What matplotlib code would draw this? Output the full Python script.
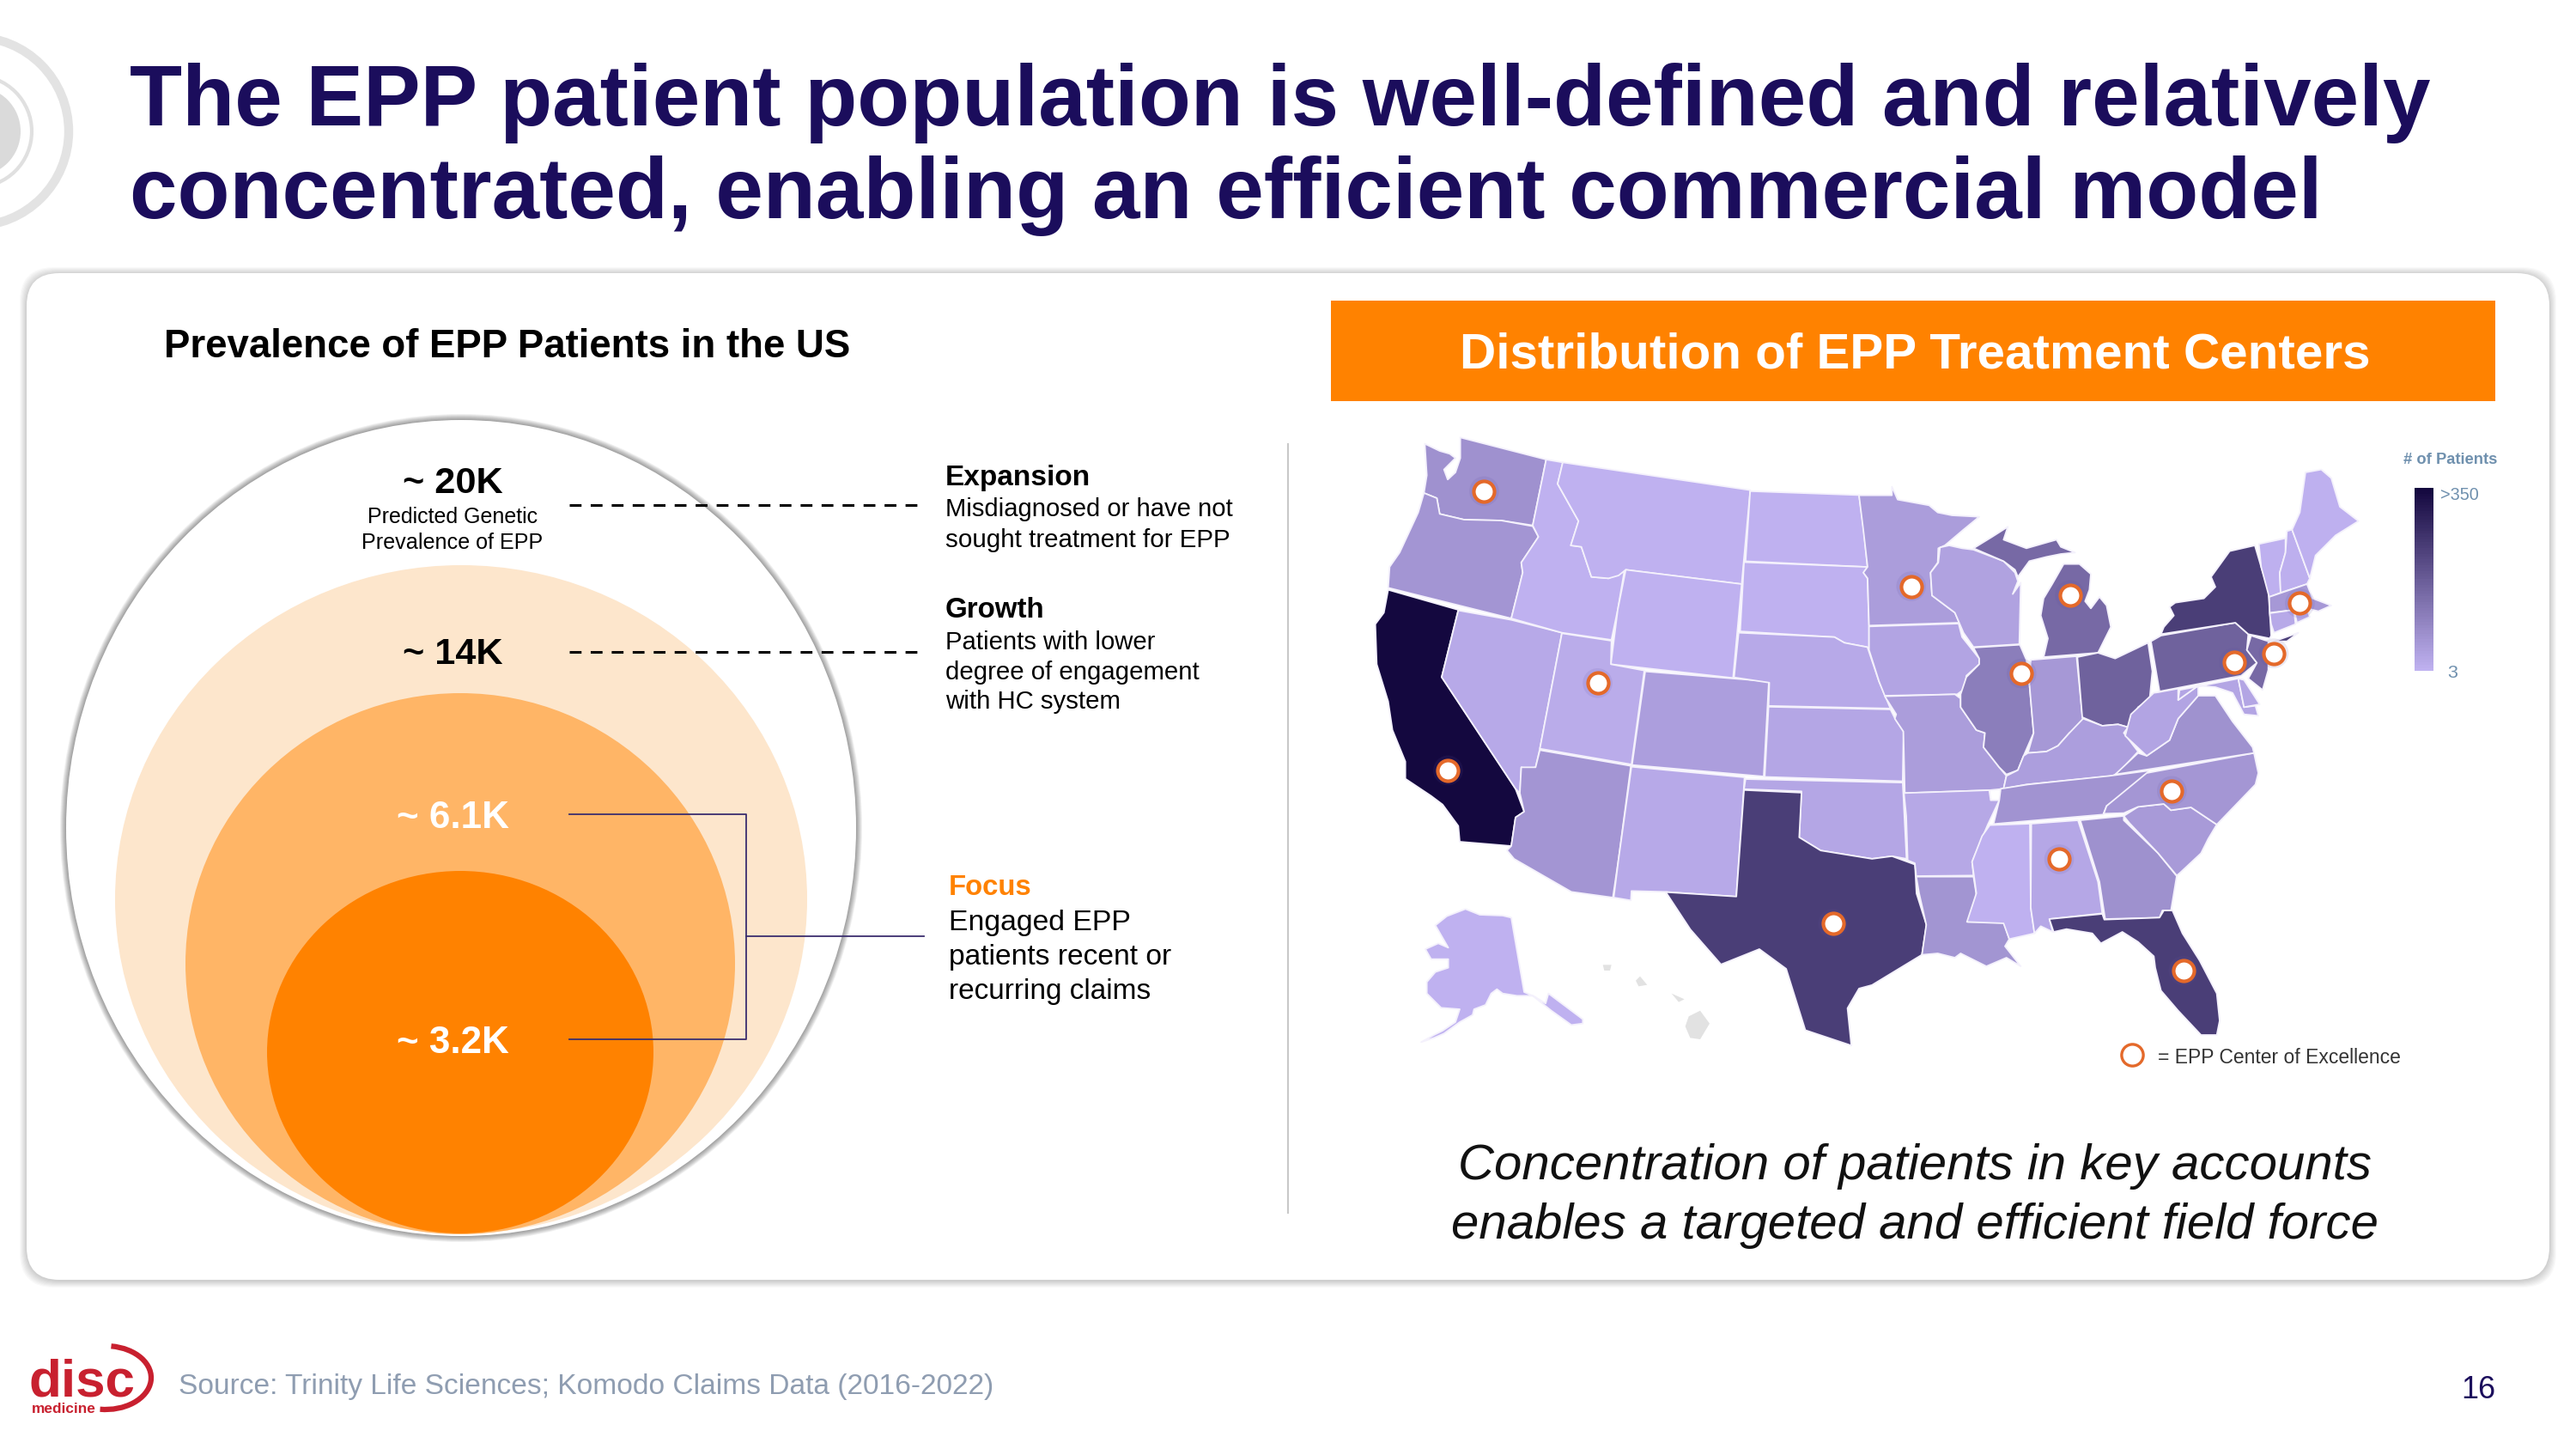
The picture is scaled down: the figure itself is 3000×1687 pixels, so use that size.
import numpy as np
import matplotlib
matplotlib.use("Agg")
import matplotlib.pyplot as plt
from matplotlib.patches import Ellipse, FancyBboxPatch, Polygon, Rectangle, Arc, Circle
from matplotlib.colors import LinearSegmentedColormap, Normalize

plt.rcParams['font.family'] = ['Liberation Sans', 'DejaVu Sans']

# ---------- data ----------
title_lines = ["The EPP patient population is well-defined and relatively",
               "concentrated, enabling an efficient commercial model"]
funnel_labels = ["~ 20K", "~ 14K", "~ 6.1K", "~ 3.2K"]
state_names = ["WA","OR","CA","NV","ID","MT","WY","UT","CO","AZ","NM","ND","SD","NE","KS","OK","TX",
               "MN","IA","MO","AR","LA","WI","IL","IN","MI","OH","KY","TN","MS","AL","GA","FL","SC",
               "NC","VA","WV","PA","NY","NJ","MD","DE","VT","NH","ME","MA","CT","RI","AK"]
patient_counts = [69,60,350,20,4,3,3,15,41,60,20,4,4,20,25,25,240,
                  45,30,45,22,62,35,108,55,150,165,42,65,3,24,70,240,50,
                  58,68,30,165,240,150,28,28,5,8,5,55,20,20,3]
# Map geometry: frame -> (left, top, x-scale, y-scale) of the traced crop
frames = {"W":(1580,500,3,3), "MW":(2120,560,3,3), "SE":(2180,860,3,3), "NE":(2400,520,3,3),
          "AK":(1580,1000,3,3), "Z":(1540,480,1.12,1.96)}
state_outlines = {
 "WA":[("W",[(238,50),(290,75),(325,85),(345,100),(305,140),(318,175),(345,150),(362,100),(362,28),(662,105),(615,335),(505,318),(375,315),(290,295),(280,240),(235,222),(245,160)])],
 "OR":[("W",[(235,222),(280,240),(290,295),(375,315),(505,318),(615,338),(635,375),(575,465),(580,500),(540,660),(110,553),(115,480),(150,430),(215,290)])],
 "CA":[("W",[(110,560),(355,630),(297,865),(555,1255),(585,1335),(555,1355),(540,1455),(360,1440),(355,1385),(300,1310),(260,1280),(170,1220),(170,1160),(125,1050),(110,950),(70,820),(65,680),(95,640)])],
 "NV":[("W",[(355,632),(540,665),(717,710),(640,1115),(625,1180),(600,1185),(575,1180),(570,1270),(555,1255),(297,865)])],
 "ID":[("W",[(662,105),(720,115),(702,190),(775,320),(748,405),(785,410),(820,515),(880,520),(915,505),(935,495),(912,630),(890,735),(717,710),(540,660),(580,500),(575,465),(635,375),(615,335)])],
 "MT":[("W",[(720,115),(1375,212),(1345,540),(940,490),(915,510),(880,520),(820,515),(785,410),(748,405),(775,320),(702,190)])],
 "WY":[("W",[(940,490),(1345,540),(1315,868),(888,820),(912,630)])],
 "UT":[("W",[(717,712),(890,738),(888,820),(1005,842),(960,1170),(640,1115)])],
 "CO":[("W",[(1008,845),(1440,880),(1422,1212),(962,1172)])],
 "AZ":[("W",[(640,1120),(958,1175),(915,1500),(895,1635),(750,1615),(550,1500),(525,1470),(540,1455),(555,1355),(585,1335),(570,1270),(575,1180),(625,1180)])],
 "NM":[("W",[(960,1178),(1355,1215),(1352,1262),(1326,1632),(1080,1615),(960,1612),(958,1645),(898,1635),(915,1500)])],
 "ND":[("Z",[(558,180),(700,189),(706,268),(711,353),(552,340)])],
 "SD":[("Z",[(550,342),(711,353),(706,366),(711,379),(713,487),(713,542),(711,536),(681,526),(668,513),(545,500)])],
 "NE":[("Z",[(543,503),(668,513),(681,526),(711,536),(726,614),(741,676),(582,670),(583,617),(537,605)])],
 "KS":[("Z",[(582,672),(741,678),(747,699),(758,728),(757,842),(577,832)])],
 "OK":[("Z",[(552,837),(757,845),(762,1019),(743,1013),(717,1019),(650,1000),(622,970),(625,865),(550,860)])],
 "TX":[("Z",[(550,862),(625,868),(622,970),(650,1000),(717,1019),(743,1013),(773,1032),(775,1098),(788,1170),(782,1238),(717,1307),(700,1315),(685,1360),(690,1445),(630,1410),(605,1270),(570,1225),(520,1260),(480,1180),(448,1095),(540,1105)])],
 "MN":[("MW",[(135,50),(250,50),(250,20),(270,65),(380,85),(410,110),(460,120),(555,125),(500,170),(435,225),(412,235),(410,285),(385,320),(390,400),(470,460),(485,495),(170,505),(165,340),(150,320),(165,300),(150,170)])],
 "IA":[("MW",[(170,508),(483,498),(495,545),(555,620),(555,640),(510,680),(505,725),(478,745),(225,750),(205,700),(170,590)])],
 "MO":[("MW",[(225,752),(470,745),(490,760),(490,790),(545,870),(575,880),(570,930),(625,1000),(650,1030),(640,1075),(590,1080),(295,1090),(290,875),(260,830),(265,815)])],
 "AR":[("SE",[(112,190),(410,180),(415,215),(445,215),(405,300),(350,430),(355,478),(155,480),(150,435),(125,425),(120,270)])],
 "LA":[("SE",[(155,482),(355,482),(365,545),(335,640),(460,640),(480,700),(465,725),(520,795),(470,765),(400,795),(350,770),(310,750),(290,765),(230,750),(175,755),(190,650),(165,540)])],
 "WI":[("MW",[(418,232),(450,225),(495,235),(535,240),(640,280),(680,320),(690,350),(672,395),(700,355),(695,570),(535,580),(500,530),(485,495),(470,460),(390,400),(385,320),(412,285)])],
 "IL":[("MW",[(535,582),(697,572),(720,625),(730,705),(745,880),(710,960),(690,1010),(650,1025),(625,1000),(570,930),(575,880),(545,870),(490,790),(490,745),(510,685),(555,640),(555,620)])],
 "IN":[("MW",[(735,625),(895,612),(918,850),(870,880),(830,925),(790,945),(725,950),(745,880),(730,705)])],
 "MI":[("MW",[(535,235),(600,195),(655,160),(640,205),(720,235),(825,205),(840,230),(890,250),(840,255),(790,265),(730,280),(690,335),(680,310),(640,280)]),
       ("MW",[(850,290),(905,290),(945,325),(940,380),(925,420),(945,445),(975,405),(1000,435),(1015,510),(970,600),(780,615),(795,550),(770,470),(780,410),(810,360)])],
 "OH":[("MW",[(898,615),(970,600),(1030,620),(1145,565),(1160,665),(1150,765),(1110,790),(1075,860),(1040,850),(985,855),(915,825)])],
 "KY":[("MW",[(725,950),(790,945),(830,925),(870,880),(918,830),(985,855),(1040,850),(1075,860),(1060,880),(1110,945),(1040,1020),(1020,1030),(720,1060),(640,1075),(650,1030),(690,1010),(710,960)])],
 "TN":[("SE",[(450,175),(545,160),(830,130),(965,112),(960,130),(820,235),(808,265),(425,298),(445,215)])],
 "MS":[("SE",[(412,302),(552,297),(555,590),(568,680),(480,700),(460,645),(332,640),(365,540),(350,430),(385,340)])],
 "AL":[("SE",[(557,297),(720,285),(790,500),(805,610),(620,630),(632,675),(590,655),(568,680),(555,590)])],
 "GA":[("SE",[(728,285),(880,270),(880,285),(1000,400),(1065,480),(1045,600),(1015,600),(1005,625),(815,630),(795,500)])],
 "FL":[("SE",[(620,630),(805,612),(812,632),(1005,625),(1020,600),(1050,600),(1085,680),(1145,775),(1205,890),(1215,985),(1205,1035),(1150,1035),(1070,950),(1010,880),(990,800),(985,760),(930,710),(875,675),(800,715),(770,680),(680,665),(635,675)])],
 "SC":[("SE",[(880,270),(930,238),(1020,228),(1045,250),(1115,240),(1205,300),(1175,350),(1150,400),(1075,470),(1065,478),(1000,400),(900,295)])],
 "NC":[("SE",[(810,262),(820,235),(960,120),(1335,50),(1350,120),(1340,160),(1205,300),(1115,240),(1045,250),(1020,228),(930,238),(880,260)])],
 "VA":[("NE",[(480,870),(540,870),(600,960),(670,1050),(675,1070),(190,1145),(270,1070),(300,1080),(380,1025),(410,950)])],
 "WV":[("NE",[(340,858),(410,845),(410,885),(480,835),(480,870),(410,950),(380,1025),(300,1080),(225,1010),(245,935),(325,860)])],
 "PA":[("NE",[(350,660),(610,615),(655,655),(650,710),(685,755),(630,800),(345,855),(315,680)])],
 "NY":[("NE",[(350,655),(360,630),(395,590),(380,560),(400,545),(500,530),(540,490),(525,455),(590,365),(678,345),(700,420),(725,500),(735,660),(730,670),(655,655),(610,615)]),
       ("NE",[(745,680),(830,650),(790,680)])],
 "NJ":[("NE",[(665,660),(725,680),(725,780),(705,850),(655,810),(685,755),(650,710)])],
 "MD":[("NE",[(415,850),(620,810),(640,910),(680,905),(690,940),(640,935),(600,860),(540,840),(480,835),(410,885)])],
 "DE":[("NE",[(620,810),(640,815),(695,900),(640,910)])],
 "VT":[("NE",[(692,340),(785,320),(785,370),(765,440),(768,510),(728,525),(700,420)])],
 "NH":[("NE",[(790,295),(808,290),(870,460),(860,480),(768,510),(765,440),(785,370)])],
 "ME":[("NE",[(855,90),(910,80),(945,110),(975,210),(1040,260),(960,310),(890,380),(870,460),(808,290),(835,230)])],
 "MA":[("NE",[(728,525),(860,480),(880,530),(945,555),(900,575),(860,565),(730,580)])],
 "CT":[("NE",[(730,582),(815,570),(820,620),(745,650),(735,620)])],
 "RI":[("NE",[(815,570),(860,565),(870,595),(825,615)])],
 "AK":[("AK",[(275,232),(315,200),(380,175),(430,195),(510,198),(540,205),(585,465),(620,480),(660,505),(670,470),(790,560),(790,575),(750,580),(680,530),(615,478),(560,478),(510,470),(490,455),(470,470),(450,510),(410,525),(405,545),(360,570),(305,610),(270,625),(225,640),(270,615),(300,600),(345,570),(360,525),(295,520),(245,470),(245,430),(275,395),(320,380),(320,350),(260,350),(240,315),(285,295),(320,310)])],
}
hawaii_outlines = [[(860,370),(890,370),(885,390),(865,390)],[(975,425),(990,410),(1015,440),(985,445)],
                   [(1100,470),(1145,490),(1125,500)],[(1160,550),(1200,530),(1233,575),(1200,630),(1165,625),(1148,585)]]
center_x = [211,768,975,1275,1241,1189,912,359,164,1108,961,666,1123]
center_y = [180,397,417,436,550,571,596,618,817,864,1020,1167,1274]
scale_low, scale_high = 3, 350

def frame_xy(frame, verts):
    left, top, sx, sy = frames[frame]
    v = np.asarray(verts, float)
    return np.column_stack([left + v[:, 0] / sx, top + v[:, 1] / sy])

# ---------- canvas ----------
fig = plt.figure(figsize=(30, 16.87), dpi=100, facecolor='white')
ax = fig.add_axes([0, 0, 1, 1])
ax.set_xlim(0, 3000); ax.set_ylim(1687, 0); ax.axis('off')
renderer = fig.canvas.get_renderer()

NAVY = '#1B0D5C'
ORANGE = '#FF8200'

def put(x, y, s, width=None, size=20, **kw):
    kw.setdefault('va', 'center'); kw.setdefault('ha', 'left'); kw.setdefault('color', 'black')
    t = ax.text(x, y, s, fontsize=size, **kw)
    if width:
        w = t.get_window_extent(renderer).width
        t.set_fontsize(size * width / w)
    return t

# background ornament
ax.add_patch(Circle((-30, 153), 110, fc='none', ec='#E3E3E3', lw=7.5))
ax.add_patch(Circle((-28, 153), 65, fc='none', ec='#E0E0E0', lw=3))
ax.add_patch(Circle((-28, 153), 52, fc='#DADADA', ec='none'))

# title
put(151, 146, title_lines[0], width=2680, size=70, color=NAVY, weight='bold', va='baseline')
put(151, 254, title_lines[1], width=2554, size=70, color=NAVY, weight='bold', va='baseline')

# card
for k in range(8, 0, -1):
    ax.add_patch(FancyBboxPatch((31-k, 318-k+1), 2938+2*k, 1172+2*k, boxstyle='round,pad=0,rounding_size=40',
                                fc='#000000', ec='none', alpha=0.022))
ax.add_patch(FancyBboxPatch((31, 318), 2938, 1172, boxstyle='round,pad=0,rounding_size=38', fc='white', ec='none'))

put(191, 404, "Prevalence of EPP Patients in the US", width=802, size=34, weight='bold')

# nested circles
for k in range(7, 0, -1):
    ax.add_patch(Ellipse((537, 964), 920+2*k, 950+2*k, fc='#000000', ec='none', alpha=0.06))
ax.add_patch(Ellipse((537, 964), 920, 950, fc='white', ec='none'))
ax.add_patch(Ellipse((537, 1047), 806, 778, fc='#FDE6CC', ec='none'))
ax.add_patch(Ellipse((536, 1122), 640, 630, fc='#FFB566', ec='none'))
ax.add_patch(Ellipse((536, 1225), 450, 422, fc=ORANGE, ec='none'))

put(527, 563, funnel_labels[0], width=117, size=33, ha='center', weight='bold')
put(527, 602, "Predicted Genetic", width=199, size=19, ha='center')
put(527, 632, "Prevalence of EPP", width=211, size=19, ha='center')
put(527, 762, funnel_labels[1], width=117, size=33, ha='center', weight='bold')
put(527, 952, funnel_labels[2], width=131, size=33, ha='center', weight='bold', color='white')
put(527, 1214, funnel_labels[3], width=131, size=33, ha='center', weight='bold', color='white')

ax.plot([663, 1072], [588, 588], color='black', lw=2.2, dashes=(4.5, 3.5))
ax.plot([663, 1072], [759, 759], color='black', lw=2.2, dashes=(4.5, 3.5))
ax.plot([663, 869, 869, 663], [948, 948, 1210, 1210], color='#3B2E6E', lw=1.3)
ax.plot([869, 1076], [1090, 1090], color='#3B2E6E', lw=1.3)

put(1101, 557, "Expansion", width=169, size=23, weight='bold')
put(1101, 593, "Misdiagnosed or have not", width=334, size=22)
put(1101, 629, "sought treatment for EPP", width=330, size=22)
put(1101, 710, "Growth", width=116, size=23, weight='bold')
put(1101, 748, "Patients with lower", width=243, size=22)
put(1101, 783, "degree of engagement", width=294, size=22)
put(1101, 817, "with HC system", width=203, size=22)
put(1105, 1033, "Focus", width=97, size=25, weight='bold', color=ORANGE)
put(1105, 1074, "Engaged EPP", width=212, size=25)
put(1105, 1114, "patients recent or", width=260, size=25)
put(1105, 1154, "recurring claims", width=236, size=25)

ax.plot([1500, 1500], [517, 1412], color='#C9C9C9', lw=1.5)

# orange band
ax.add_patch(Rectangle((1550, 350), 1356, 117, fc=ORANGE, ec='none'))
put(2230, 413, "Distribution of EPP Treatment Centers", width=1062, size=42, ha='center', weight='bold', color='white')

# map
cmap = LinearSegmentedColormap.from_list('epp', ['#BFB1F0', '#14083F'])
norm = Normalize(scale_low, scale_high)
for name, count in zip(state_names, patient_counts):
    for frame, poly in state_outlines[name]:
        ax.add_patch(Polygon(frame_xy(frame, poly), closed=True, fc=cmap(norm(count)), ec='#F4F1FC', lw=1.3, joinstyle='round'))
for poly in hawaii_outlines:
    ax.add_patch(Polygon(frame_xy("AK", poly), closed=True, fc='#E2E2E2', ec='none'))
centers = frame_xy("Z", np.column_stack([center_x, center_y]))
ax.scatter(centers[:, 0], centers[:, 1], s=620, fc='#5B4FA0', ec='none', alpha=0.12, zorder=4)
ax.scatter(centers[:, 0], centers[:, 1], s=300, fc='white', ec='#E4692A', lw=3.0, zorder=5)
legend_center = frame_xy("SE", [(910, 1105)])
ax.scatter(legend_center[:, 0], legend_center[:, 1], s=330, fc='white', ec='#E4692A', lw=2.4, zorder=5)

put(2513, 1231, "= EPP Center of Excellence", width=283, size=18, color='#333333', stretch='condensed')

# colour scale
ax.imshow(np.linspace(scale_high, scale_low, 64)[:, None], cmap=cmap, norm=norm, aspect='auto',
          extent=(2812, 2834, 781, 569), zorder=3)
ax.set_xlim(0, 3000); ax.set_ylim(1687, 0)
put(2854, 536, "# of Patients", width=110, size=14, ha='center', weight='bold', color='#6F90AE')
put(2842, 577, ">350", width=45, size=14, color='#6F90AE')
put(2850, 783, "3", width=12, size=14, color='#6F90AE')

# caption
put(2230, 1358, "Concentration of patients in key accounts", width=1065, size=42, ha='center', style='italic', color='#111111')
put(2230, 1427, "enables a targeted and efficient field force", width=1081, size=42, ha='center', style='italic', color='#111111')

# footer
RED = '#C8202F'
put(33, 1625, "disc", width=124, size=60, weight='bold', color=RED, va='baseline', family=['Liberation Sans Narrow', 'Liberation Sans'])
put(37, 1645, "medicine", width=75, size=14, weight='bold', color=RED, va='baseline', family=['Liberation Sans Narrow', 'Liberation Sans'])
ax.add_patch(Arc((123, 1604), 106, 74, theta1=-80, theta2=100, color=RED, lw=4.5))
put(208, 1615, "Source: Trinity Life Sciences; Komodo Claims Data (2016-2022)", width=951, size=24, color='#8F9DB1')
put(2906, 1619, "16", width=40, size=28, ha='right', color=NAVY)

fig.savefig('out.png', dpi=100, facecolor='white')
